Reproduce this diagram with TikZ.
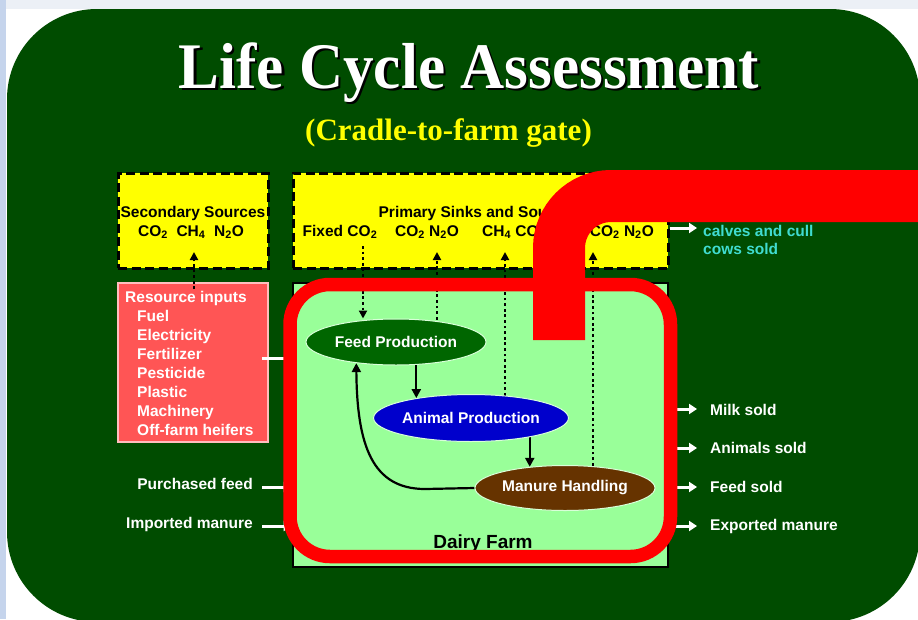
\documentclass[tikz,border=0pt]{standalone}
\usepackage{fontspec}
\setmainfont{Liberation Sans}
\newfontfamily\tnr{Liberation Serif}
\usetikzlibrary{arrows.meta,shapes.geometric}
\pgfdeclarelayer{back}
\pgfdeclarelayer{ell}
\pgfdeclarelayer{front}
\pgfsetlayers{back,main,ell,front}
\definecolor{bggreen}{RGB}{0,76,0}
\definecolor{farmgreen}{RGB}{153,255,153}
\definecolor{yel}{RGB}{255,255,0}
\definecolor{resred}{RGB}{255,85,85}
\definecolor{resedge}{RGB}{255,190,190}
\definecolor{feedgreen}{RGB}{0,102,0}
\definecolor{anblue}{RGB}{0,0,204}
\definecolor{manbrown}{RGB}{102,51,0}
\definecolor{cyantxt}{RGB}{64,220,208}
\definecolor{leftblue}{RGB}{197,212,236}
\definecolor{topgrey}{RGB}{236,240,246}
\definecolor{redl}{RGB}{255,0,0}
\newcommand{\shadowtext}[1]{\rlap{\hspace{2.5pt}\raisebox{-2.5pt}{\color{black}#1}}#1}
\begin{document}
\begin{tikzpicture}[x=1pt,y=-1pt,
  lbl/.style={font=\fontsize{15.5}{18}\selectfont\bfseries, inner sep=0pt},
  wl/.style={lbl, text=white},
  bl/.style={lbl, text=black},
  ybox/.style={draw=black, fill=yel, line width=3pt, dash pattern=on 9pt off 4.5pt, minimum width=150pt, minimum height=95pt, inner sep=0pt},
  elln/.style={ellipse, draw=white!85!green, line width=1pt, inner sep=0pt, minimum width=180pt, text=white, font=\fontsize{15.5}{18}\selectfont\bfseries},
  dotarrow/.style={draw=black, line width=2.8pt, dash pattern=on 2.8pt off 2.8pt, -{Triangle[length=8pt,width=8pt]}},
  solarrow/.style={draw=black, line width=2.2pt, -{Triangle[length=9pt,width=9pt]}},
  warrow/.style={draw=white, line width=3pt, -{Triangle[length=8pt,width=10pt]}},
  wline/.style={draw=white, line width=3pt},
  redmark/.style={draw=redl, line cap=butt}
]
\useasboundingbox (0,0) rectangle (918,619);
\clip (0,0) rectangle (918,619);

\begin{pgfonlayer}{back}
  \fill[white] (0,0) rectangle (918,619);
  \fill[topgrey] (0,0) rectangle (918,9);
  \fill[leftblue] (0,0) rectangle (6,619);
  \fill[bggreen, rounded corners=90pt] (7,9) rectangle (920,622);
  \node[ybox] (sec) at (193,220.5) {};
  \node[ybox, minimum width=375pt] (prim) at (480.5,220.5) {};
  \node[draw=resedge, fill=resred, line width=1.5pt, minimum width=150pt, minimum height=159pt, inner sep=0pt] (res) at (193,362.5) {};
  \node[draw=black, fill=farmgreen, line width=2.8pt, minimum width=375pt, minimum height=284pt, inner sep=0pt] (farm) at (480.5,425) {};
\end{pgfonlayer}

% titles
\node[anchor=base, text=white, font=\tnr\bfseries\fontsize{65}{65}\selectfont, inner sep=0pt] (title) at (469,88) {\scalebox{0.94}[1]{\shadowtext{Life Cycle Assessment}}};
\node[anchor=base, text=yel, font=\tnr\bfseries\fontsize{31}{31}\selectfont, inner sep=0pt] (subtitle) at (448.5,140) {(Cradle-to-farm gate)};

% box texts
\node[bl, anchor=base] (sectitle) at (193,217) {Secondary Sources};
\node[bl, anchor=base] (secgas) at (191,236) {CO\textsubscript{2}\ \ CH\textsubscript{4}\ \ N\textsubscript{2}O};
\node[bl, anchor=base] (primtitle) at (479,217) {Primary Sinks and Sources};
\node[bl, anchor=base] (g1) at (340,236) {Fixed CO\textsubscript{2}};
\node[bl, anchor=base] (g2) at (427,236) {CO\textsubscript{2} N\textsubscript{2}O};
\node[bl, anchor=base west] (g3) at (482,236) {CH\textsubscript{4} CO\textsubscript{2}};
\node[bl, anchor=base east] (g4) at (654,236) {CH\textsubscript{4} CO\textsubscript{2} N\textsubscript{2}O};

\node[wl, anchor=base west] (r0) at (125,302) {Resource inputs};
\foreach \t [count=\i] in {Fuel,Electricity,Fertilizer,Pesticide,Plastic,Machinery,Off-farm heifers}
  \node[wl, anchor=base west] (r\i) at (137,302+19*\i) {\t};

\node[lbl, text=black, font=\fontsize{19}{22}\selectfont\bfseries, anchor=base] (farmlabel) at (483,548) {Dairy Farm};

% outside labels
\node[lbl, text=cyantxt, anchor=base west] (calves1) at (703,236) {calves and cull};
\node[lbl, text=cyantxt, anchor=base west] (calves2) at (703,254) {cows sold};
\node[wl, anchor=base west] (milk) at (710,415) {Milk sold};
\node[wl, anchor=base west] (animals) at (710,453) {Animals sold};
\node[wl, anchor=base west] (feedsold) at (710,492) {Feed sold};
\node[wl, anchor=base west] (exported) at (710,530) {Exported manure};
\node[wl, anchor=base east] (purchased) at (253,489) {Purchased feed};
\node[wl, anchor=base east] (imported) at (253,528) {Imported manure};

% ellipses
\begin{pgfonlayer}{ell}
  \node[elln, fill=feedgreen, minimum height=46pt] (feed) at (396,342) {Feed Production};
  \node[elln, fill=anblue, minimum height=47pt] (animal) at (471,418) {Animal Production};
  \node[elln, fill=manbrown, minimum height=45pt] (manure) at (565,488) {Manure Handling};
\end{pgfonlayer}

% coordinates for free ends
\coordinate (t0) at (194,252);
\coordinate (t2) at (437,252);
\coordinate (t3) at (505,252);
\coordinate (t4) at (593,252);
\coordinate (f1) at (363,246);
\coordinate (ca) at (697,228);
\coordinate (o1) at (697,409);
\coordinate (o2) at (697,448);
\coordinate (o3) at (697,487);
\coordinate (o4) at (697,526);
\coordinate (i1) at (262,487);
\coordinate (i2) at (262,526);
\coordinate (i0) at (262,358);

% dotted gas flows
\draw[dotarrow, shorten <=-7pt] (t0 |- res.north) -- (t0);
\draw[dotarrow] (f1) -- (f1 |- feed.north);
\draw[dotarrow] (t2 |- feed.center) -- (t2);
\draw[dotarrow] (t3 |- animal.center) -- (t3);
\draw[dotarrow] (t4 |- manure.center) -- (t4);

% internal flows
\draw[solarrow] (feed.center -| animal.160.3) -- (animal.160.3);
\draw[solarrow] (animal.center -| manure.149.4) -- (manure.149.4);
\draw[solarrow] (manure.west) -- (425,489) .. controls (372,489) and (357,445) .. (feed.208);

% white inputs/outputs
\draw[wline] (i0) -- (i0 -| farm.west);
\draw[warrow] (i1) -- (i1 -| farm.west);
\draw[warrow] (i2) -- (i2 -| farm.west);
\draw[warrow] (ca -| prim.east) -- (ca);
\draw[warrow] (o1 -| farm.east) -- (o1);
\draw[warrow] (o2 -| farm.east) -- (o2);
\draw[warrow] (o3 -| farm.east) -- (o3);
\draw[warrow] (o4 -| farm.east) -- (o4);

% red annotation
\begin{pgfonlayer}{front}
  \draw[redmark, line width=13.5pt, rounded corners=40pt] (290,284.5) rectangle (670.5,556.5);
  \draw[redmark, line width=52pt, rounded corners=52pt] (559,340) -- (559,196) -- (935,196);
\end{pgfonlayer}
\end{tikzpicture}
\end{document}
